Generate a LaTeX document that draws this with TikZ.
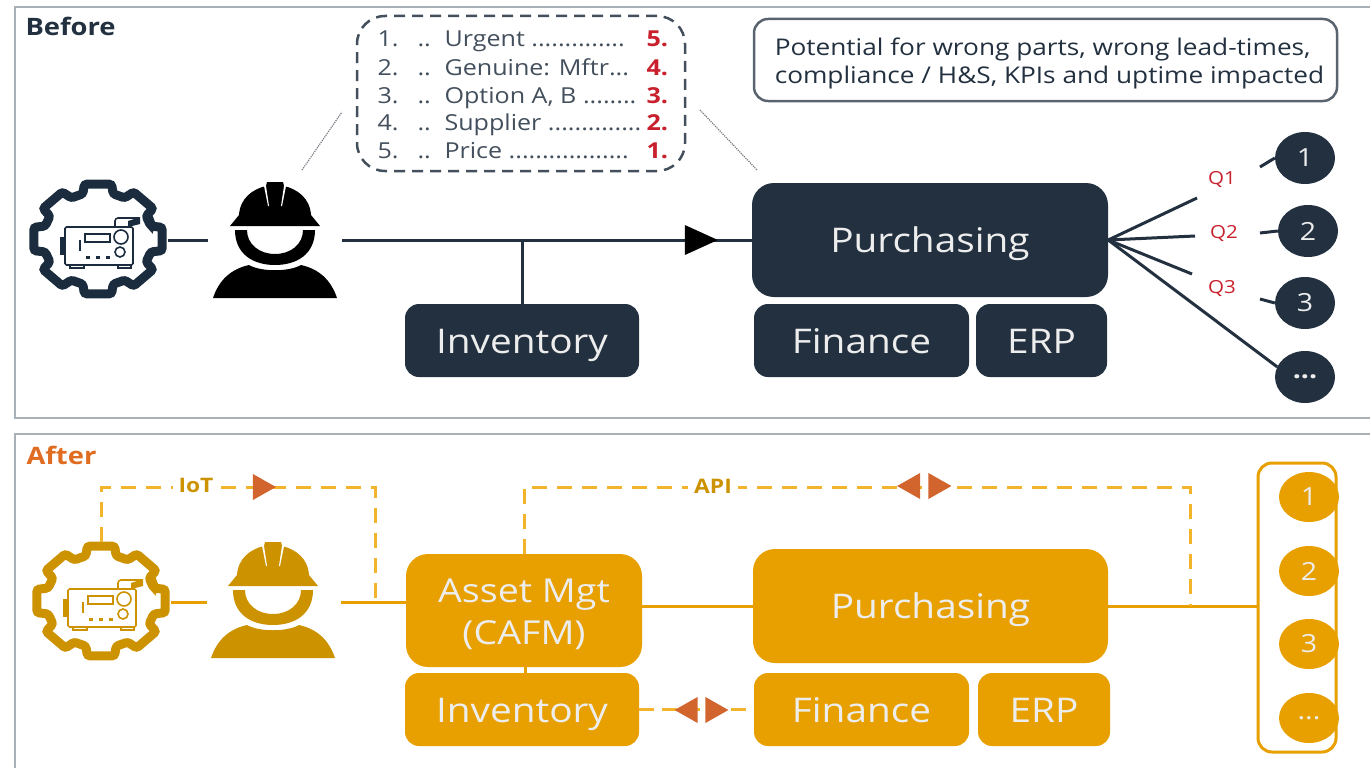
\documentclass[tikz,border=0pt]{standalone}
\usepackage{fontspec}
\setmainfont[FakeStretch=1.14]{Open Sans}
\usetikzlibrary{shapes,arrows,positioning,shapes.geometric,calc}
\definecolor{navy}{HTML}{22303F}
\definecolor{gearnavy}{HTML}{1B2C3E}
\definecolor{amber}{HTML}{E8A000}
\definecolor{darkamber}{HTML}{CC9200}
\definecolor{dashamber}{HTML}{F2B42A}
\definecolor{rust}{HTML}{D2642E}
\definecolor{framegray}{HTML}{A8B0B8}
\definecolor{qred}{HTML}{C8202C}
\definecolor{boxtext}{HTML}{EDEDED}
\newcommand{\fsize}[1]{\fontsize{#1}{#1}\selectfont}
% gear with generator inside: x, y, colour
\newcommand{\gearicon}[3]{
	\begin{scope}[shift={(#1,#2)}]
		\begin{scope}[xscale=1.17]
			\draw[#3,line width=9pt,rounded corners=2.5pt] (-16:47) foreach \a in {0,45,...,315} {-- ({\a-16}:47) -- ({\a-12}:56) -- ({\a+12}:56) -- ({\a+16}:47)} -- cycle;
		\end{scope}
		\draw[#3,line width=1.6pt,rounded corners=1.5pt] (-33,-12) rectangle (35,26);
		\draw[#3,line width=1.6pt] (-13,-5) rectangle (12,3);
		\draw[#3,line width=1.6pt] (23,-2) circle (7);
		\draw[#3,line width=1.6pt] (22,13) circle (5);
		\draw[#3,line width=3pt] (-12,18) -- (-8,18) (-2,18) -- (2,18) (8,18) -- (12,18);
		\fill[#3] (-38,-2) rectangle (-33,16);
		\draw[#3,line width=1.6pt] (-18,1) -- (-18,12);
		\draw[#3,line width=1.6pt] (-28,26) -- (-28,29) -- (-14,29) -- (-14,26) (20,26) -- (20,29) -- (33,29) -- (33,26);
		\draw[#3,line width=1.6pt,rounded corners=3pt] (17,-12) -- (17,-21) -- (41,-21);
		\fill[#3] (30,-18) -- (42,-22) -- (42,-15) -- (30,-12) -- cycle;
	\end{scope}
}
% worker with helmet: x, y of helmet top, colour
\newcommand{\workericon}[3]{
	\begin{scope}[shift={(#1,#2)}]
		\fill[#3] (-45,44) -- (-36,33) .. controls (-35,16) and (-22,7) .. (-9,4) -- (-8,0) -- (8,0) -- (9,4) .. controls (22,7) and (35,16) .. (36,33) -- (45,44) -- cycle;
		\fill[white] (-9,4) -- (-11,4) -- (-7,24) -- (-6,24) -- cycle (9,4) -- (11,4) -- (7,24) -- (6,24) -- cycle;
		\fill[#3] (-40,48) .. controls (-40,72) and (-22,83) .. (0,83) .. controls (22,83) and (40,72) .. (40,48) -- (28,48) .. controls (28,62) and (16,72) .. (0,72) .. controls (-16,72) and (-28,62) .. (-28,48) -- cycle;
		\fill[#3] (-62,116) .. controls (-56,98) and (-44,87) .. (-26,83) .. controls (-14,90) and (14,90) .. (26,83) .. controls (44,87) and (56,98) .. (62,116) -- cycle;
	\end{scope}
}
\tikzset{
	navybox/.style={fill=navy,text=boxtext,rounded corners=#1,inner sep=0pt,font=\fsize{34},text height=30pt,text depth=5pt},
	amberbox/.style={fill=amber,text=boxtext,rounded corners=#1,inner sep=0pt,font=\fsize{34},text height=30pt,text depth=5pt},
	frameline/.style={framegray,line width=2pt},
	navyline/.style={navy,line width=3pt},
	amberline/.style={amber,line width=3pt},
	dashline/.style={dashamber,line width=3pt,dash pattern=on 15pt off 10pt},
	navycirc/.style={ellipse,fill=navy,text=boxtext,minimum width=60pt,minimum height=52pt,inner sep=0pt,font=\fsize{25}},
	ambercirc/.style={ellipse,fill=amber,text=boxtext,minimum width=60pt,minimum height=50pt,inner sep=0pt,font=\fsize{25}},
	tiptri/.style={isosceles triangle,isosceles triangle stretches,inner sep=0pt,minimum height=23pt,minimum width=26pt,fill=rust},
	tipleft/.style={tiptri,shape border rotate=180},
	qlabel/.style={text=qred,font=\fsize{18}},
	rowtext/.style={anchor=west,text=navy!85,font=\fsize{22},text height=18pt,text depth=2pt},
	rownum/.style={anchor=west,text=qred,font=\bfseries\fsize{22},text height=18pt,text depth=2pt},
}
\begin{document}
\begin{tikzpicture}[x=1pt,y=-1pt]
	\useasboundingbox (0,0) rectangle (1370,768);
	% frames
	\draw[frameline] (1370,7) -- (15,7) -- (15,418) -- (1370,418);
	\draw[frameline] (1370,434) -- (15,434) -- (15,768);
	\node[anchor=west,text=navy,font=\bfseries\fsize{24}] (titleA) at (22,26) {Before};
	\node[anchor=west,text=rust!70!orange,font=\bfseries\fsize{24}] (titleB) at (23,455) {After};

	% before
	\node[ellipse,minimum width=140pt,minimum height=120pt,inner sep=0pt] (gearA) at (98,240) {};
	\node[minimum width=134pt,minimum height=116pt,inner sep=0pt] (workerA) at (275,240) {};
	\gearicon{98}{239}{gearnavy}
	\workericon{275}{182}{black}
	\node[navybox=22pt,minimum width=356pt,minimum height=114pt] (purchA) at (930,240) {Purchasing};
	\node[navybox=14pt,minimum width=234pt,minimum height=73pt] (invA) at (522,340.5) {Inventory};
	\node[navybox=14pt,minimum width=215pt,minimum height=73pt] (finA) at (861.5,340.5) {Finance};
	\node[navybox=14pt,minimum width=131pt,minimum height=73pt] (erpA) at (1041.5,340.5) {ERP};
	\node[navycirc] (oneA) at (1305,158) {1};
	\node[navycirc] (twoA) at (1308,231) {2};
	\node[navycirc] (threeA) at (1305,303) {3};
	\node[navycirc,font=\bfseries\fsize{25}] (moreA) at (1305,377) {...};
	\draw[navyline] (gearA.east) -- (workerA.west);
	\draw[navyline] (workerA.east) -- (purchA.west);
	\draw[navyline] (invA.north) -- (invA.north |- purchA.west);
	\node[tiptri,minimum height=33pt,minimum width=30pt,fill=black] (tipA) at (694.5,240) {};

	% fan to the suppliers
	\coordinate (qendA) at (1197,198);
	\coordinate (qendB) at (1195,236);
	\coordinate (qendC) at (1192,274);
	\coordinate (qstartA) at (1260,167);
	\coordinate (qstartB) at (1260,233);
	\coordinate (qstartC) at (1260,299);
	\draw[navyline] (purchA.east) -- (qendA);
	\draw[navyline] (purchA.east) -- (qendB);
	\draw[navyline] (purchA.east) -- (qendC);
	\draw[navyline] (purchA.east) -- (moreA.160);
	\draw[navyline] (qstartA) -- (oneA.west);
	\draw[navyline] (qstartB) -- (twoA.west);
	\draw[navyline] (qstartC) -- (threeA.west);
	\node[qlabel] (qa) at (1222,180) {Q1};
	\node[qlabel] (qb) at (1224,234) {Q2};
	\node[qlabel] (qc) at (1222,288) {Q3};

	% ranking list
	\node[draw=navy!85,line width=2.5pt,dash pattern=on 11pt off 7pt,rounded corners=28pt,minimum width=328pt,minimum height=155pt] (rankbox) at (521,93.5) {};
	\foreach \n/\y/\txt/\num in {1/39/{Urgent ..............}/5.,2/67/{Genuine: Mftr...}/4.,3/95/{Option A, B ........}/3.,4/122/{Supplier ..............}/2.,5/150/{Price ..................}/1.}{
		\node[rowtext] (pos\n) at (374,\y) {\n.};
		\node[rowtext] (dots\n) at (414,\y) {..};
		\node[rowtext] (name\n) at (441,\y) {\txt};
		\node[rownum] (rank\n) at (643,\y) {\num};
	}
	\coordinate (calloutA) at (302,170);
	\coordinate (calloutB) at (342,112);
	\coordinate (calloutC) at (700,110);
	\coordinate (calloutD) at (757,170);
	\draw[framegray!70!black,line width=1.2pt,densely dotted] (calloutA) -- (calloutB);
	\draw[framegray!70!black,line width=1.2pt,densely dotted] (calloutC) -- (calloutD);

	% note
	\node[draw=navy!75,line width=2.5pt,rounded corners=14pt,minimum width=583pt,minimum height=82pt,align=left,text=navy,font=\fontsize{23}{28}\selectfont] (note) at (1045.5,60) {\rule{0pt}{24pt}\hspace*{8pt}Potential for wrong parts, wrong lead-times,\\\hspace*{8pt}compliance / H\&S, KPIs and uptime impacted};

	% after
	\node[ellipse,minimum width=140pt,minimum height=120pt,inner sep=0pt] (gearB) at (101,602.5) {};
	\node[minimum width=134pt,minimum height=116pt,inner sep=0pt] (workerB) at (274,602.5) {};
	\gearicon{101}{601}{darkamber}
	\workericon{273}{542}{darkamber}
	\coordinate (iotturn) at (375,487);
	\coordinate (apiturn) at (1190,487);
	\node[fill=amber,text=boxtext,rounded corners=22pt,inner sep=0pt,minimum width=236pt,minimum height=113pt,align=center,font=\fontsize{33}{42}\selectfont] (assetB) at (524,610.5) {\rule{0pt}{32pt}Asset Mgt\\(CAFM)};
	\node[amberbox=22pt,minimum width=355pt,minimum height=114pt] (purchB) at (930.5,606) {Purchasing};
	\node[amberbox=14pt,minimum width=234pt,minimum height=73pt] (invB) at (522,709.5) {Inventory};
	\node[amberbox=14pt,minimum width=215pt,minimum height=73pt] (finB) at (861.5,709.5) {Finance};
	\node[amberbox=14pt,minimum width=132pt,minimum height=73pt] (erpB) at (1044,709.5) {ERP};
	\node[draw=amber,line width=3pt,fill=white,rounded corners=14pt,minimum width=78pt,minimum height=289pt] (groupB) at (1297,607.5) {};
	\node[ambercirc] (oneB) at (1309,497) {1};
	\node[ambercirc] (twoB) at (1309,571) {2};
	\node[ambercirc] (threeB) at (1309,644) {3};
	\node[ambercirc] (moreB) at (1309,718) {...};
	\draw[amberline] (gearB.east) -- (workerB.west);
	\draw[amberline] (workerB.east) -- (assetB.west |- workerB.east);
	\draw[amberline] (assetB.east |- purchB.west) -- (purchB.west);
	\draw[amberline] (purchB.east) -- (groupB.west |- purchB.east);
	\draw[amberline] (invB.north -| 525,0) -- (assetB.south -| 525,0);
	\draw[dashline] (gearB.north) |- (iotturn) -- (iotturn |- workerB.east);
	\draw[dashline] (assetB.north) |- (apiturn) -- (apiturn |- purchB.east);
	\draw[dashline,dash pattern=on 15pt off 8pt] (invB.east) -- (finB.west);
	\node[fill=white,inner sep=6pt,text=darkamber,font=\bfseries\fsize{20}] (iotlabel) at (196,485) {IoT};
	\node[fill=white,inner sep=6pt,text=darkamber,font=\bfseries\fsize{20}] (apilabel) at (713,486) {API};
	\node[tiptri] (tipB) at (260.5,487) {};
	\node[tipleft] (tipC) at (912.5,486) {};
	\node[tiptri] (tipD) at (936,486) {};
	\node[tipleft] (tipE) at (690,710) {};
	\node[tiptri] (tipF) at (713,710) {};
\end{tikzpicture}
\end{document}
